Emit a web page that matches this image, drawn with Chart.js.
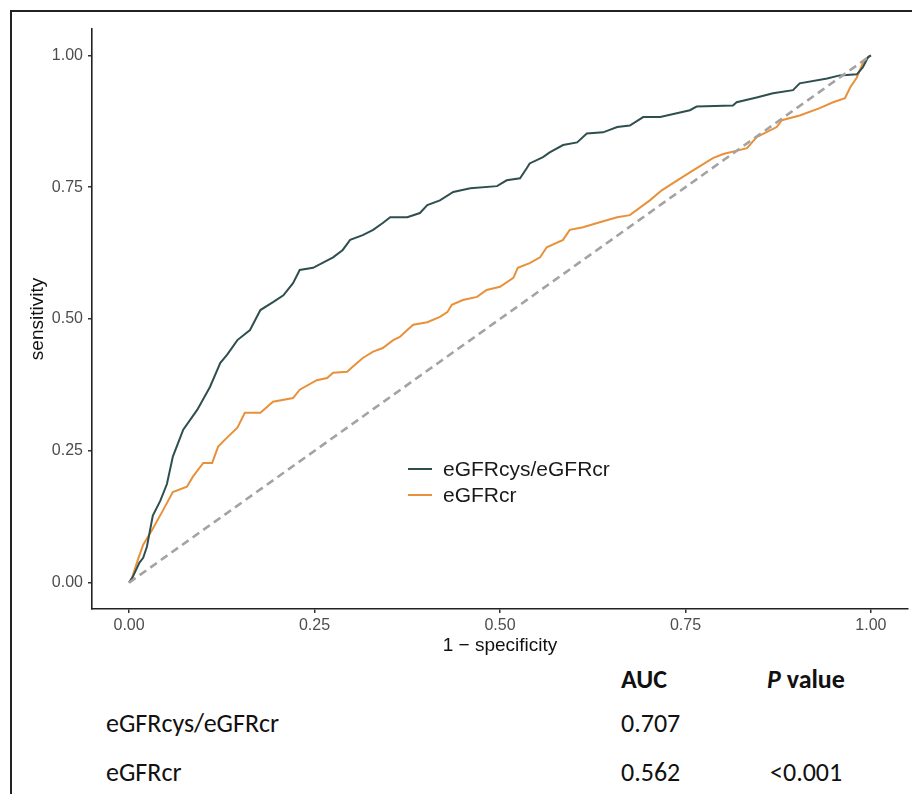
<!DOCTYPE html>
<html>
<head>
<meta charset="utf-8">
<script src="https://cdn.jsdelivr.net/npm/chart.js@4"></script>
<style>
  html, body { margin:0; padding:0; background:#fff; width:912px; height:794px; overflow:hidden; }
  #frame { position:absolute; left:10px; top:10px; width:1000px; height:900px; border:2px solid #222; box-sizing:border-box; }
  #wrap { position:absolute; left:0; top:0; width:912px; height:660px; }
  .leg { position:absolute; font-family:"Liberation Sans", Arial, sans-serif; font-size:21px; color:#1a1a1a; line-height:24px; white-space:nowrap; }
  .key { position:absolute; height:2px; width:24px; }
  .tb { position:absolute; font-family:Carlito, Calibri, Lato, "Open Sans", sans-serif; font-size:26px; color:#111; line-height:30px; white-space:nowrap; }
</style>
</head>
<body>
<div id="frame"></div>
<div id="wrap"><canvas id="c" width="912" height="660"></canvas></div>

<div class="key" style="left:408px; top:468px; background:#2F4F4F;"></div>
<div class="leg" id="leg1" style="left:443px; top:457px;"></div>
<div class="key" style="left:408px; top:494px; background:#E8913A;"></div>
<div class="leg" id="leg2" style="left:443px; top:483px;"></div>

<div class="tb" style="left:621px; top:664px; font-weight:bold;">AUC</div>
<div class="tb" style="left:767px; top:664px; font-weight:bold;"><i>P</i> value</div>
<div class="tb" id="r1" style="left:106px; top:708px;"></div>
<div class="tb" id="a1" style="left:621px; top:708px;"></div>
<div class="tb" id="r2" style="left:106px; top:757px;"></div>
<div class="tb" id="a2" style="left:621px; top:757px;"></div>
<div class="tb" id="p2" style="left:770px; top:757px;"></div>

<script>
// ---- data ----
const seriesNames = ["eGFRcys/eGFRcr", "eGFRcr"];
const aucValues = ["0.707", "0.562"];
const pValues = ["", "<0.001"];
const tickValues = [0, 0.25, 0.5, 0.75, 1];

const fprCys = [0,0.005,0.014,0.019,0.024,0.032,0.042,0.051,0.059,0.073,0.092,0.109,0.123,0.132,0.146,0.163,0.177,0.194,0.208,0.221,0.230,0.248,0.275,0.288,0.298,0.315,0.329,0.342,0.352,0.375,0.392,0.402,0.419,0.437,0.460,0.496,0.509,0.527,0.536,0.540,0.558,0.567,0.585,0.604,0.617,0.639,0.658,0.675,0.693,0.716,0.756,0.765,0.814,0.819,0.846,0.868,0.895,0.904,0.941,0.958,0.981,0.989,0.996,1];
const tprCys = [0,0.011,0.038,0.047,0.068,0.127,0.155,0.187,0.239,0.290,0.328,0.371,0.417,0.432,0.460,0.479,0.517,0.532,0.545,0.568,0.593,0.597,0.617,0.631,0.650,0.659,0.669,0.682,0.693,0.693,0.701,0.716,0.725,0.741,0.748,0.752,0.763,0.767,0.786,0.795,0.807,0.816,0.830,0.835,0.852,0.854,0.864,0.867,0.883,0.883,0.896,0.903,0.905,0.911,0.920,0.928,0.934,0.947,0.956,0.962,0.964,0.977,0.996,1];

const fprCr = [0,0.004,0.012,0.019,0.031,0.046,0.059,0.078,0.086,0.100,0.112,0.120,0.132,0.146,0.156,0.177,0.194,0.221,0.230,0.253,0.267,0.275,0.294,0.301,0.315,0.329,0.342,0.356,0.365,0.375,0.383,0.402,0.419,0.429,0.435,0.450,0.469,0.482,0.500,0.518,0.524,0.540,0.554,0.563,0.585,0.594,0.612,0.631,0.658,0.675,0.702,0.718,0.739,0.756,0.787,0.801,0.833,0.846,0.873,0.880,0.904,0.931,0.949,0.965,0.972,0.981,0.989,0.997,1];
const tprCr = [0,0.009,0.044,0.072,0.100,0.138,0.172,0.182,0.201,0.227,0.227,0.258,0.275,0.294,0.322,0.322,0.343,0.350,0.366,0.384,0.388,0.398,0.400,0.409,0.426,0.438,0.445,0.460,0.466,0.479,0.489,0.494,0.504,0.513,0.527,0.536,0.542,0.555,0.561,0.578,0.597,0.606,0.617,0.636,0.650,0.669,0.674,0.682,0.693,0.697,0.725,0.744,0.763,0.778,0.805,0.813,0.824,0.845,0.864,0.877,0.886,0.900,0.911,0.919,0.939,0.958,0.985,0.998,1];

const diagX = [0, 1];
const diagY = [0, 1];

// ---- text ----
document.getElementById('leg1').textContent = seriesNames[0];
document.getElementById('leg2').textContent = seriesNames[1];
document.getElementById('r1').textContent = seriesNames[0];
document.getElementById('r2').textContent = seriesNames[1];
document.getElementById('a1').textContent = aucValues[0];
document.getElementById('a2').textContent = aucValues[1];
document.getElementById('p2').textContent = pValues[1];

const toXY = (xs, ys) => xs.map((x, i) => ({x: x, y: ys[i]}));

const tickFont = { family: "'Liberation Sans', Arial, sans-serif", size: 16 };
const titleFont = { family: "'Liberation Sans', Arial, sans-serif", size: 19 };

new Chart(document.getElementById('c'), {
  type: 'scatter',
  data: {
    datasets: [
      { label: 'diag', data: toXY(diagX, diagY), showLine: true, borderColor: '#A3A3A3', borderWidth: 2.6, borderDash: [8, 5], pointRadius: 0, order: 0 },
      { label: seriesNames[0], data: toXY(fprCys, tprCys), showLine: true, borderColor: '#2F4F4F', borderWidth: 2, pointRadius: 0, order: 1, tension: 0 },
      { label: seriesNames[1], data: toXY(fprCr, tprCr), showLine: true, borderColor: '#E8913A', borderWidth: 2, pointRadius: 0, order: 2, tension: 0 }
    ]
  },
  options: {
    responsive: false,
    animation: false,
    devicePixelRatio: 1,
    layout: { padding: { left: 0, top: 29, right: 4, bottom: 0 } },
    plugins: { legend: { display: false }, tooltip: { enabled: false } },
    scales: {
      x: {
        type: 'linear', min: -0.05, max: 1.05,
        afterBuildTicks: s => { s.ticks = tickValues.map(v => ({ value: v })); },
        afterFit: s => { s.height = 51; },
        ticks: { callback: v => Number(v).toFixed(2), color: '#4D4D4D', font: tickFont, padding: 3, maxRotation: 0, autoSkip: false },
        grid: { drawOnChartArea: false, drawTicks: true, tickLength: 4, color: '#333', lineWidth: 1.5 },
        border: { display: true, color: '#222', width: 1.6 },
        title: { display: true, text: '1 \u2212 specificity', color: '#111', font: titleFont, padding: { top: 0, bottom: 3 } }
      },
      y: {
        type: 'linear', min: -0.05, max: 1.05,
        afterBuildTicks: s => { s.ticks = tickValues.map(v => ({ value: v })); },
        afterFit: s => { s.width = 92; },
        ticks: { callback: v => Number(v).toFixed(2), color: '#4D4D4D', font: tickFont, padding: 5, autoSkip: false },
        grid: { drawOnChartArea: false, drawTicks: true, tickLength: 4, color: '#333', lineWidth: 1.5 },
        border: { display: true, color: '#222', width: 1.6 },
        title: { display: true, text: 'sensitivity', color: '#111', font: titleFont, padding: { top: 26, bottom: 0 } }
      }
    }
  }
});
</script>
</body>
</html>
